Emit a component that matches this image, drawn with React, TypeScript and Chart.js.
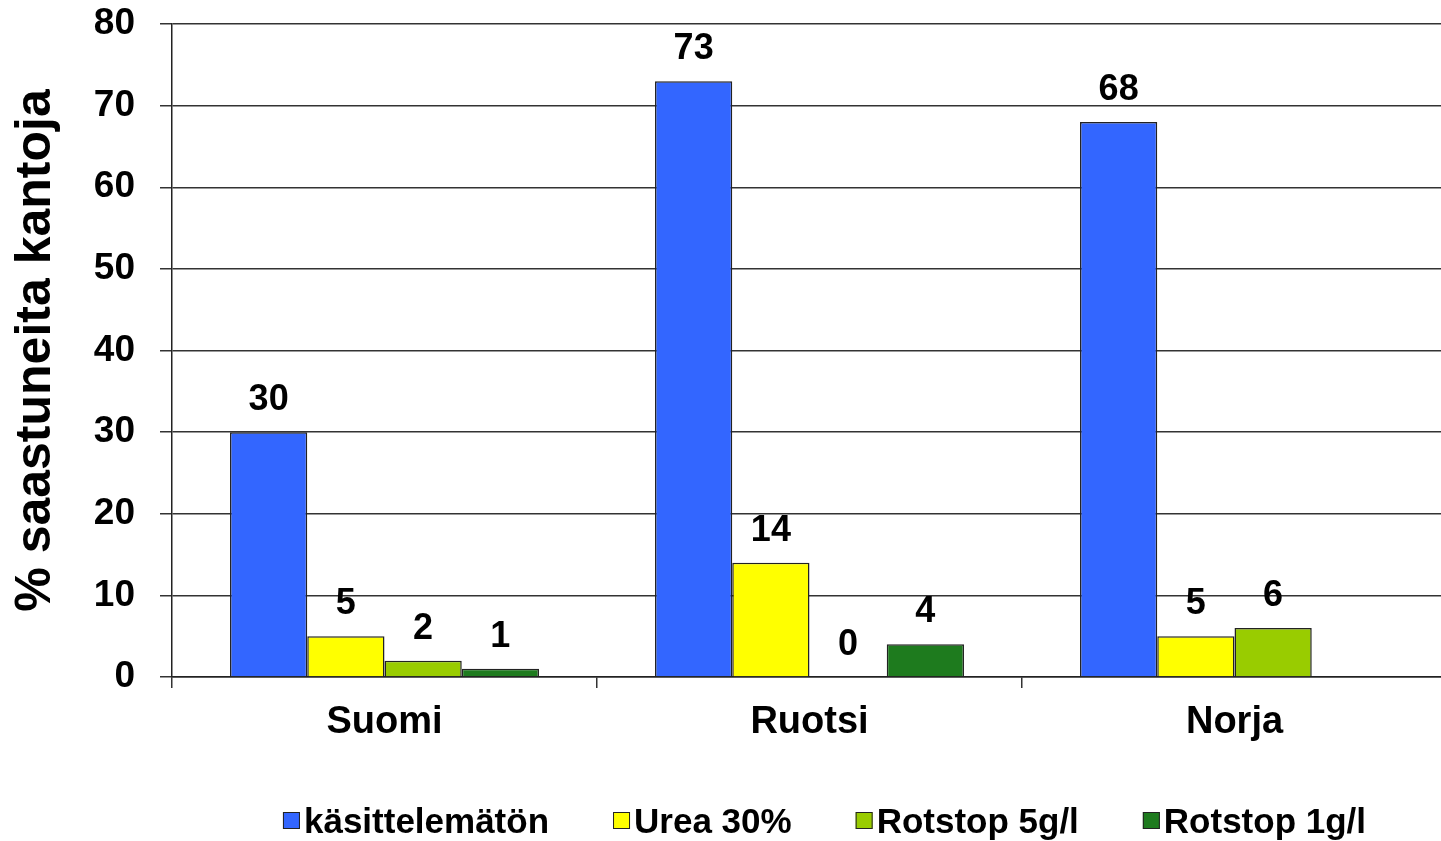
import React, { useEffect, useRef } from "react";
import { Chart, registerables } from "chart.js";

Chart.register(...registerables);

const FONT = "Arial, 'Liberation Sans', sans-serif";

const categories = ["Suomi", "Ruotsi", "Norja"];
const seriesNames = ["käsittelemätön", "Urea 30%", "Rotstop 5g/l", "Rotstop 1g/l"];
const untreated = [30, 73, 68];
const urea = [5, 14, 5];
const rotstop5 = [2, 0, 6];
const rotstop1: (number | null)[] = [1, 4, null];
const seriesColors = ["#3366ff", "#ffff00", "#99cc00", "#1e7b1e"];
const yTicks = [0, 10, 20, 30, 40, 50, 60, 70, 80];
const yTitle = "% saastuneita kantoja";

const valueLabels = {
  id: "valueLabels",
  afterDatasetsDraw(chart: any) {
    const ctx = chart.ctx;
    ctx.save();
    ctx.font = `bold 36px ${FONT}`;
    ctx.fillStyle = "#000";
    ctx.textAlign = "center";
    ctx.textBaseline = "alphabetic";
    chart.data.datasets.forEach((ds: any, i: number) => {
      const meta = chart.getDatasetMeta(i);
      meta.data.forEach((bar: any, j: number) => {
        const v = ds.data[j];
        if (v === null || v === undefined) return;
        ctx.fillText(String(v), bar.x, bar.y - 22);
      });
    });
    ctx.restore();
  },
};

const bottomLegend = {
  id: "bottomLegend",
  afterDraw(chart: any) {
    const ctx = chart.ctx;
    ctx.save();
    ctx.font = `bold 35px ${FONT}`;
    const box = 17;
    const gap = 4;
    const itemGap = 64;
    const items = chart.data.datasets.map((ds: any) => ({
      text: ds.label,
      color: ds.backgroundColor,
      w: box + gap + ctx.measureText(ds.label).width,
    }));
    const total = items.reduce((s: number, it: any) => s + it.w, 0) + itemGap * (items.length - 1);
    const center = (chart.chartArea.left + chart.chartArea.right) / 2 + 15;
    let x = center - total / 2;
    const baseline = 833;
    items.forEach((it: any) => {
      ctx.fillStyle = it.color;
      ctx.fillRect(x, 812, box, box);
      ctx.strokeStyle = "#222";
      ctx.lineWidth = 1;
      ctx.strokeRect(x + 0.5, 812.5, box - 1, box - 1);
      ctx.fillStyle = "#000";
      ctx.textAlign = "left";
      ctx.textBaseline = "alphabetic";
      ctx.fillText(it.text, x + box + gap, baseline);
      x += it.w + itemGap;
    });
    ctx.restore();
  },
};

export default function App() {
  const ref = useRef<HTMLCanvasElement>(null);
  useEffect(() => {
    if (!ref.current) return;
    const seriesData = [untreated, urea, rotstop5, rotstop1];
    const chart = new Chart(ref.current, {
      type: "bar",
      data: {
        labels: categories,
        datasets: seriesNames.map((name, i) => ({
          label: name,
          data: seriesData[i],
          backgroundColor: seriesColors[i],
          borderColor: "#222",
          borderWidth: 1.5,
          categoryPercentage: 0.727,
          barPercentage: 1,
        })),
      },
      options: {
        animation: false,
        responsive: false,
        layout: { autoPadding: false, padding: { top: 24, left: 0, right: 0, bottom: 0 } },
        plugins: {
          legend: { display: false },
          tooltip: { enabled: false },
        },
        scales: {
          x: {
            offset: true,
            grid: {
              offset: true,
              display: true,
              drawOnChartArea: false,
              drawTicks: true,
              tickLength: 11,
              color: "#333",
              lineWidth: 1.5,
            },
            border: { display: true, color: "#222", width: 1.5 },
            ticks: {
              color: "#000",
              font: { family: FONT, size: 38, weight: "bold" },
              padding: 12,
            },
            afterFit(scale: any) {
              scale.height = 841 - 677;
              scale.paddingLeft = 0;
              scale.paddingRight = 0;
            },
          },
          y: {
            min: 0,
            max: 80,
            afterBuildTicks(scale: any) {
              scale.ticks = yTicks.map((v) => ({ value: v }));
            },
            grid: {
              color: "#333",
              lineWidth: 1.5,
              drawTicks: true,
              tickLength: 12,
            },
            border: { display: true, color: "#222", width: 1.5 },
            ticks: {
              color: "#000",
              font: { family: FONT, size: 37, weight: "bold" },
              padding: 25,
            },
            title: {
              display: true,
              text: yTitle,
              color: "#000",
              font: { family: FONT, size: 50, weight: "bold" },
              padding: { top: 6, bottom: 0 },
            },
            afterFit(scale: any) {
              scale.width = 172;
              scale.paddingTop = 0;
              scale.paddingBottom = 0;
            },
          },
        },
      },
      plugins: [valueLabels, bottomLegend],
    });
    return () => chart.destroy();
  }, []);
  return (
    <div
      style={{
        position: "fixed",
        left: 0,
        top: 0,
        width: 1441,
        height: 841,
        overflow: "hidden",
        background: "#fff",
      }}
    >
      <canvas ref={ref} width={1447} height={841} style={{ display: "block" }} />
    </div>
  );
}
